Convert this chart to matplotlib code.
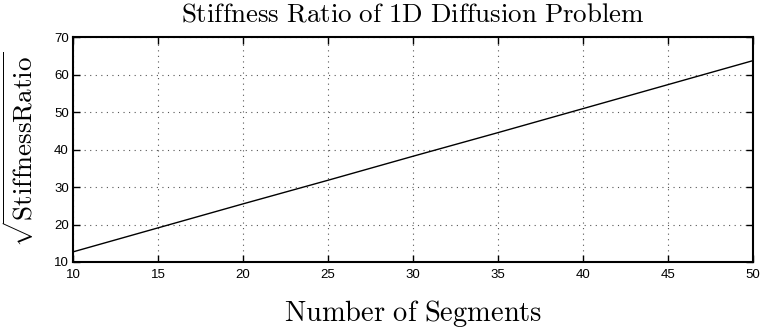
import numpy as np
import matplotlib
matplotlib.use("Agg")
import matplotlib.pyplot as plt

# square root of the stiffness ratio, read at every 5 segments
segments = [10, 15, 20, 25, 30, 35, 40, 45, 50]
sqrt_ratio = [12.7, 19.1, 25.5, 31.8, 38.2, 44.5, 50.9, 57.3, 63.7]

x_ticks = [10, 15, 20, 25, 30, 35, 40, 45, 50]
y_ticks = [10, 20, 30, 40, 50, 60, 70]

plt.rcParams["mathtext.fontset"] = "cm"
plt.rcParams["font.family"] = ["Liberation Sans", "DejaVu Sans"]

fig = plt.figure(figsize=(7.62, 3.29), dpi=100)
ax = fig.add_axes([73 / 762, 1 - 262 / 329, (753 - 73) / 762, (262 - 37) / 329])

ax.plot(segments, sqrt_ratio, color="black", linewidth=1.0)

ax.set_xlim(10, 50)
ax.set_ylim(10, 70)
ax.set_xticks(x_ticks)
ax.set_yticks(y_ticks)
ax.tick_params(direction="in", top=True, right=True, length=5, width=1,
               labelsize=9.5)
ax.tick_params(axis="y", pad=3)
ax.tick_params(axis="x", pad=5)
for s in ax.spines.values():
    s.set_linewidth(1.5)
ax.grid(True, linestyle=(0, (1, 4)), color="#555555", linewidth=0.8)

ax.set_title(r"$\mathrm{Stiffness\ Ratio\ of\ 1D\ Diffusion\ Problem}$",
             fontsize=19.4, pad=11)
ax.set_xlabel(r"$\mathrm{Number\ of\ Segments}$", fontsize=20.5)
ax.set_ylabel(r"$\sqrt{\mathrm{StiffnessRatio}}$", fontsize=19.5)
ax.xaxis.set_label_coords(0.5, -0.16)
ax.yaxis.set_label_coords(-0.05, 0.5)

fig.savefig("out.png", dpi=100)
